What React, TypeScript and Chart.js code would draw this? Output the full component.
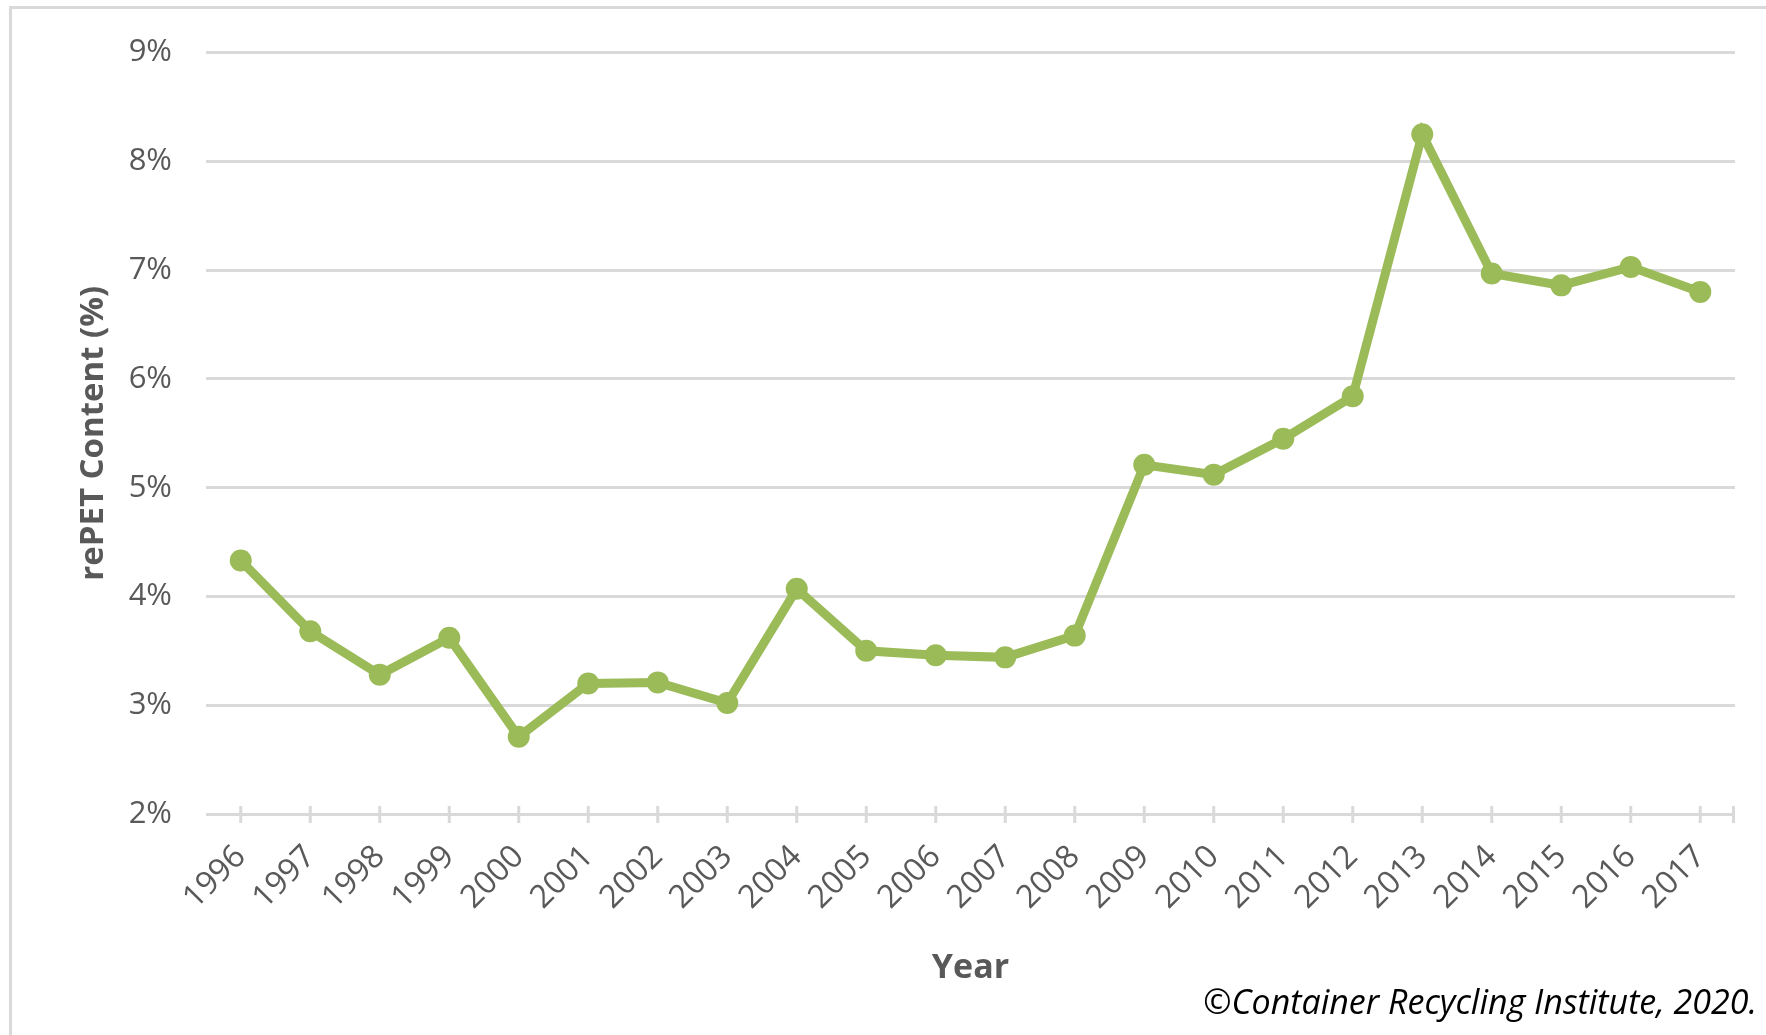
import React, { useEffect, useRef } from "react";
import { Chart, registerables } from "chart.js";

Chart.register(...registerables);

// Share of recycled PET (rePET) content by year
const years = [
  "1996", "1997", "1998", "1999", "2000", "2001", "2002", "2003", "2004", "2005", "2006",
  "2007", "2008", "2009", "2010", "2011", "2012", "2013", "2014", "2015", "2016", "2017",
];
const repetContent = [
  4.33, 3.68, 3.28, 3.62, 2.71, 3.2, 3.21, 3.02, 4.07, 3.5, 3.46,
  3.44, 3.64, 5.21, 5.12, 5.45, 5.84, 8.25, 6.97, 6.86, 7.03, 6.8,
];
const yTicks = [2, 3, 4, 5, 6, 7, 8, 9];

const yTitle = "rePET Content (%)";
const xTitle = "Year";
const credit = "©Container Recycling Institute, 2020.";

const GREEN = "#9BBB59";
const GRID = "#D9D9D9";
const TEXT = "#595959";
const FONT = "'Open Sans', 'Noto Sans', sans-serif";

// Excel-style cross tick marks on the category axis, plus the source credit line
const axisDecor = {
  id: "axisDecor",
  afterDraw(chart: any) {
    const { ctx, chartArea } = chart;
    const x = chart.scales.x;
    const y = chart.scales.y;
    const axisY = y.getPixelForValue(yTicks[0]);
    ctx.save();
    ctx.strokeStyle = GRID;
    ctx.lineWidth = 3;
    const xs: number[] = [];
    for (let i = 0; i < years.length; i++) xs.push(x.getPixelForTick(i));
    xs.push(chartArea.right - 1.5);
    ctx.beginPath();
    for (const px of xs) {
      ctx.moveTo(px, axisY - 8);
      ctx.lineTo(px, axisY + 9);
    }
    ctx.stroke();

    ctx.fillStyle = "#000000";
    ctx.font = `italic 34px ${FONT}`;
    ctx.textAlign = "right";
    ctx.textBaseline = "alphabetic";
    ctx.fillText(credit, 1757, 1014, 565);
    ctx.restore();
  },
};

export default function App() {
  const canvasRef = useRef<HTMLCanvasElement | null>(null);

  useEffect(() => {
    const canvas = canvasRef.current;
    if (!canvas) return;
    const chart = new Chart(canvas, {
      type: "line",
      data: {
        labels: years,
        datasets: [
          {
            data: repetContent,
            borderColor: GREEN,
            backgroundColor: GREEN,
            borderWidth: 9,
            pointRadius: 11,
            pointBackgroundColor: GREEN,
            pointBorderColor: GREEN,
            pointBorderWidth: 0,
            tension: 0,
          },
        ],
      },
      options: {
        responsive: false,
        animation: false,
        layout: { padding: { top: 52, right: 31, bottom: 0, left: 0 } },
        plugins: {
          legend: { display: false },
          tooltip: { enabled: false },
        },
        scales: {
          x: {
            type: "category",
            offset: true,
            grid: { display: false, drawTicks: false },
            border: { display: false },
            ticks: {
              color: TEXT,
              font: { family: FONT, size: 32 },
              minRotation: 45,
              maxRotation: 45,
              autoSkip: false,
              padding: 24,
            },
            title: {
              display: true,
              text: xTitle,
              color: TEXT,
              font: { family: FONT, size: 34, weight: "bold" },
              padding: { top: 0, bottom: 46 },
            },
            afterFit: (scale: any) => {
              scale.height = 221;
            },
          },
          y: {
            min: yTicks[0],
            max: yTicks[yTicks.length - 1],
            grid: { color: GRID, lineWidth: 3, drawTicks: false },
            border: { display: false },
            ticks: {
              stepSize: 1,
              color: TEXT,
              font: { family: FONT, size: 31 },
              padding: 34,
              callback: (v: any) => `${v}%`,
            },
            title: {
              display: true,
              text: yTitle,
              color: TEXT,
              font: { family: FONT, size: 33, weight: "bold" },
              padding: { top: 74, bottom: 0 },
            },
            afterFit: (scale: any) => {
              scale.width = 206;
            },
          },
        },
      },
      plugins: [axisDecor],
    });
    return () => chart.destroy();
  }, []);

  return (
    <div
      style={{
        position: "fixed",
        left: 0,
        top: 0,
        width: 1766,
        height: 1035,
        background: "#ffffff",
        overflow: "hidden",
      }}
    >
      <div
        style={{
          position: "absolute",
          left: 9,
          top: 6,
          right: -4,
          bottom: -4,
          borderLeft: `3px solid ${GRID}`,
          borderTop: `3px solid ${GRID}`,
        }}
      />
      <canvas
        ref={canvasRef}
        width={1766}
        height={1035}
        style={{ position: "absolute", left: 0, top: 0, display: "block" }}
      />
    </div>
  );
}
